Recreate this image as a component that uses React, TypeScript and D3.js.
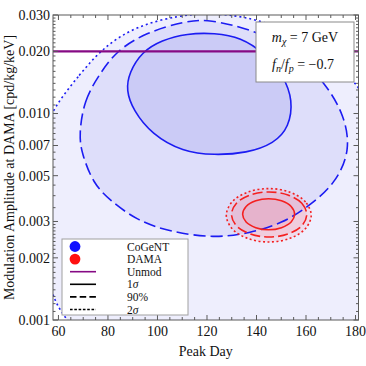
import * as d3 from "d3";

const WIDTH = 366;
const HEIGHT = 366;

// axes
const peakDayDomain = [57.8, 181.2];
const amplitudeDomain = [0.001, 0.03];
const peakDayTicks = [60, 80, 100, 120, 140, 160, 180];
const amplitudeTicks = [0.001, 0.002, 0.003, 0.005, 0.007, 0.01, 0.02, 0.03];
const amplitudeTickLabels = ["0.001", "0.002", "0.003", "0.005", "0.007", "0.010", "0.020", "0.030"];

// unmodulated bound
const unmodAmplitude = 0.02;

// CoGeNT contours [peak day, amplitude]
const cogent1Sigma: [number, number][] = [
  [87.3, 0.01297], [88.6, 0.0158], [93.6, 0.01985], [101.6, 0.02265],
  [112.0, 0.02445], [123.1, 0.02455], [133.6, 0.02345], [143.6, 0.0195],
  [151.0, 0.0152], [154.7, 0.01159], [153.2, 0.00861], [147.2, 0.00716],
  [136.0, 0.00643], [123.0, 0.00628], [110.2, 0.00652], [97.6, 0.00795],
  [90.2, 0.01037],
];
const cogent90: [number, number][] = [
  [68.3, 0.00785], [70.3, 0.0116], [76.6, 0.01549], [83.3, 0.0201],
  [95.4, 0.0247], [111.5, 0.0281], [121.0, 0.0286], [137.1, 0.0256],
  [153.4, 0.0214], [167.9, 0.01403], [175.5, 0.00981], [178.0, 0.00664],
  [171.9, 0.00459], [161.3, 0.00356], [150.5, 0.00294], [137.1, 0.00263],
  [123.1, 0.00249], [105.0, 0.00267], [91.5, 0.00304], [80.8, 0.0038],
  [74.0, 0.00458], [69.4, 0.00643],
];
const cogent2Sigma: [number, number][] = [
  [57.8, 0.01062], [68.6, 0.01549], [78.0, 0.02089], [91.3, 0.02655],
  [109.0, 0.02993], [121.1, 0.03062], [135.2, 0.02958], [151.3, 0.02588],
  [167.5, 0.01982], [178.4, 0.01483], [183.6, 0.01227], [190.5, 0.00743],
  [193.7, 0.0038], [191.7, 0.00194], [183.6, 0.00105], [169.5, 0.00064],
  [141.3, 0.00046], [109.0, 0.00043], [80.8, 0.00057], [63.0, 0.001],
  [58.2, 0.00125], [54.6, 0.00174], [50.9, 0.00304], [50.9, 0.00531],
  [53.8, 0.00785],
];

// DAMA contours
const dama1Sigma: [number, number][] = [
  [155.4, 0.00325], [154.0, 0.003546], [150.1, 0.003776], [144.9, 0.003866],
  [139.7, 0.003776], [135.8, 0.003546], [134.4, 0.00325], [135.8, 0.002982],
  [139.7, 0.002801], [144.9, 0.002735], [150.1, 0.002801], [154.0, 0.002982],
];
const dama90: [number, number][] = [
  [160.3, 0.003244], [158.3, 0.003678], [152.7, 0.004032], [145.1, 0.00417],
  [137.5, 0.004032], [131.9, 0.003678], [129.9, 0.003244], [131.9, 0.002861],
  [137.5, 0.00261], [145.1, 0.002524], [152.7, 0.00261], [158.3, 0.002861],
];
const dama2Sigma: [number, number][] = [
  [162.1, 0.003216], [159.8, 0.003731], [153.5, 0.00416], [145.0, 0.00433],
  [136.4, 0.00416], [130.1, 0.003731], [127.8, 0.003216], [130.1, 0.002771],
  [136.4, 0.002485], [145.0, 0.002387], [153.5, 0.002485], [159.8, 0.002771],
];

const legendLabels = ["CoGeNT", "DAMA", "Unmod", "1σ", "90%", "2σ"];

const BLUE = "#1c1cf2";
const RED = "#f42020";
const PURPLE = "#860a84";
const FRAME = "#5a5a5a";
const FONT = "'Liberation Serif', 'Times New Roman', serif";

export default function App() {
  const left = 53;
  const right = 358.5;
  const top = 15;
  const bottom = 320;

  const x = d3.scaleLinear().domain(peakDayDomain).range([left, right]);
  const y = d3.scaleLog().domain(amplitudeDomain).range([bottom, top]);

  // smoothed closed curve for the hand-read CoGeNT contours
  const smooth = d3
    .line<[number, number]>()
    .x((d) => x(d[0]))
    .y((d) => y(d[1]))
    .curve(d3.curveBasisClosed);

  const contour = d3
    .line<[number, number]>()
    .x((d) => x(d[0]))
    .y((d) => y(d[1]))
    .curve(d3.curveCatmullRomClosed.alpha(0.5));

  const xMinor = d3.range(60, 181, 5).filter((t) => t % 20 !== 0);
  const yMinor = [
    ...d3.range(0.0011, 0.003, 0.0001),
    ...d3.range(0.0035, 0.01, 0.0005),
    ...d3.range(0.011, 0.03, 0.001),
  ].filter((t) => !amplitudeTicks.some((m) => Math.abs(m - t) < 1e-7));

  const legendX = 62;
  const legendY = 239;
  const rowY = (i: number) => legendY + 7.5 + i * 12.6;

  return (
    <svg
      width={WIDTH}
      height={HEIGHT}
      style={{ position: "absolute", left: 0, top: 0, background: "white" }}
      fontFamily={FONT}
    >
      <defs>
        <clipPath id="plot-clip">
          <rect x={left} y={top} width={right - left} height={bottom - top} />
        </clipPath>
      </defs>

      <g clipPath="url(#plot-clip)">
        {/* CoGeNT filled regions */}
        <path d={smooth(cogent2Sigma) ?? ""} fill="#eeeefd" />
        <path d={smooth(cogent90) ?? ""} fill="#dedefa" />
        <path d={smooth(cogent1Sigma) ?? ""} fill="#cbcbf6" />

        {/* DAMA filled regions */}
        <path d={contour(dama2Sigma) ?? ""} fill="rgb(255,70,90)" fillOpacity={0.1} />
        <path d={contour(dama90) ?? ""} fill="rgb(255,70,90)" fillOpacity={0.1} />
        <path d={contour(dama1Sigma) ?? ""} fill="rgb(255,70,90)" fillOpacity={0.1} />

        {/* CoGeNT contour lines */}
        <path d={smooth(cogent2Sigma) ?? ""} fill="none" stroke={BLUE} strokeWidth={1.6} strokeDasharray="2,3" />
        <path d={smooth(cogent90) ?? ""} fill="none" stroke={BLUE} strokeWidth={1.6} strokeDasharray="12,5" />
        <path d={smooth(cogent1Sigma) ?? ""} fill="none" stroke={BLUE} strokeWidth={1.6} />

        {/* DAMA contour lines */}
        <path d={contour(dama2Sigma) ?? ""} fill="none" stroke={RED} strokeWidth={1.6} strokeDasharray="2,2.5" />
        <path d={contour(dama90) ?? ""} fill="none" stroke={RED} strokeWidth={1.6} strokeDasharray="10,4" />
        <path d={contour(dama1Sigma) ?? ""} fill="none" stroke={RED} strokeWidth={1.6} />

        {/* unmodulated limit */}
        <line x1={left} x2={right} y1={y(unmodAmplitude)} y2={y(unmodAmplitude)} stroke={PURPLE} strokeWidth={2.3} />
      </g>

      {/* frame */}
      <rect x={left} y={top} width={right - left} height={bottom - top} fill="none" stroke={FRAME} strokeWidth={1} />

      {/* x ticks, bottom and top */}
      {peakDayTicks.map((t) => (
        <g key={"xt" + t}>
          <line x1={x(t)} x2={x(t)} y1={bottom} y2={bottom - 5} stroke={FRAME} />
          <line x1={x(t)} x2={x(t)} y1={top} y2={top + 5} stroke={FRAME} />
          <text x={x(t)} y={bottom + 16} textAnchor="middle" fontSize={14} fill="#111">
            {t}
          </text>
        </g>
      ))}
      {xMinor.map((t) => (
        <g key={"xm" + t}>
          <line x1={x(t)} x2={x(t)} y1={bottom} y2={bottom - 3} stroke={FRAME} />
          <line x1={x(t)} x2={x(t)} y1={top} y2={top + 3} stroke={FRAME} />
        </g>
      ))}

      {/* y ticks, left and right */}
      {amplitudeTicks.map((t, i) => (
        <g key={"yt" + t}>
          <line x1={left} x2={left + 5} y1={y(t)} y2={y(t)} stroke={FRAME} />
          <line x1={right} x2={right - 5} y1={y(t)} y2={y(t)} stroke={FRAME} />
          <text x={left - 3} y={y(t)} dy="0.35em" textAnchor="end" fontSize={14} fill="#111">
            {amplitudeTickLabels[i]}
          </text>
        </g>
      ))}
      {yMinor.map((t) => (
        <g key={"ym" + t}>
          <line x1={left} x2={left + 2.5} y1={y(t)} y2={y(t)} stroke={FRAME} />
          <line x1={right} x2={right - 2.5} y1={y(t)} y2={y(t)} stroke={FRAME} />
        </g>
      ))}

      {/* axis titles */}
      <text x={(left + right) / 2} y={355.5} textAnchor="middle" fontSize={14} fill="#111">
        Peak Day
      </text>
      <text
        transform={`translate(14,${(top + bottom) / 2}) rotate(-90)`}
        textAnchor="middle"
        fontSize={14}
        fill="#111"
      >
        Modulation Amplitude at DAMA [cpd/kg/keV]
      </text>

      {/* parameter box */}
      <rect x={256} y={22} width={98} height={60} fill="white" stroke="#8a8a8a" strokeWidth={1} />
      <text x={305} y={41.5} textAnchor="middle" fontSize={14} fill="#111">
        <tspan fontStyle="italic">m</tspan>
        <tspan fontStyle="italic" fontSize={10} dy={3}>χ</tspan>
        <tspan dy={-3}> = 7 GeV</tspan>
      </text>
      <text x={303} y={68.5} textAnchor="middle" fontSize={14} fill="#111">
        <tspan fontStyle="italic">f</tspan>
        <tspan fontStyle="italic" fontSize={10} dy={3}>n</tspan>
        <tspan dy={-3}>/</tspan>
        <tspan fontStyle="italic">f</tspan>
        <tspan fontStyle="italic" fontSize={10} dy={3}>p</tspan>
        <tspan dy={-3}> = −0.7</tspan>
      </text>

      {/* legend */}
      <rect x={legendX} y={legendY} width={126} height={76} fill="white" stroke="#a0a0a0" strokeWidth={1} />
      <circle cx={75} cy={rowY(0)} r={5.4} fill="#1010ff" />
      <circle cx={75} cy={rowY(1)} r={5.4} fill="#ff1010" />
      <line x1={70} x2={96} y1={rowY(2)} y2={rowY(2)} stroke={PURPLE} strokeWidth={1.6} />
      <line x1={70} x2={96} y1={rowY(3)} y2={rowY(3)} stroke="#000" strokeWidth={1.6} />
      <line x1={70} x2={96} y1={rowY(4)} y2={rowY(4)} stroke="#000" strokeWidth={1.6} strokeDasharray="6.5,3.2" />
      <line x1={70} x2={96} y1={rowY(5)} y2={rowY(5)} stroke="#000" strokeWidth={1.6} strokeDasharray="2.6,1.7" />
      {legendLabels.map((label, i) => (
        <text key={label} x={127} y={rowY(i)} dy="0.35em" fontSize={11.5} fill="#111">
          {label.endsWith("σ") ? (
            <>
              {label.slice(0, -1)}
              <tspan fontStyle="italic">σ</tspan>
            </>
          ) : (
            label
          )}
        </text>
      ))}
    </svg>
  );
}
